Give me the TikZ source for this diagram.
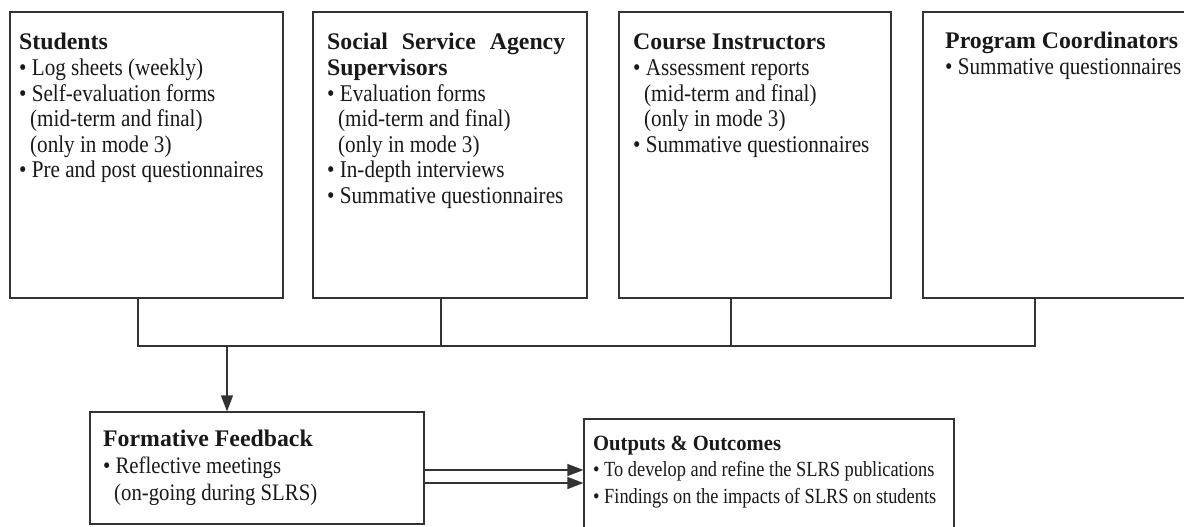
\documentclass[tikz,border=0pt]{standalone}
\usepackage{fontspec}
\setmainfont{Liberation Serif}
\newfontfamily\condf[FakeStretch=0.88]{Liberation Serif}
\newfontfamily\condg[FakeStretch=0.85]{Liberation Serif}
\newfontfamily\condh[FakeStretch=0.95]{Liberation Serif}
\usetikzlibrary{arrows.meta}
\newcommand\hd[1]{{\rmfamily\fontsize{23.8}{25.6}\selectfont\bfseries #1}}
\newcommand\hdo[1]{{\condh\fontsize{21.7}{26.5}\selectfont\bfseries #1}}
\newcommand\bodyfnt{\condf\fontsize{24}{25.6}\selectfont}
\newcommand\bodyfb{\condf\fontsize{23.6}{27}\selectfont}
\newcommand\bodyout{\condg\fontsize{21.6}{26.5}\selectfont}
\newcommand\ind{\hspace*{11pt}}
\tikzset{
  box/.style={draw=black!80, line width=1.2pt, inner sep=0pt, fill=none},
  txt/.style={inner sep=0pt, anchor=base west, font=\bodyfnt, text=black!90},
  conn/.style={draw=black!80, line width=1.2pt},
  arr/.style={conn, -{Triangle[length=16pt,width=12pt]}},
}
\begin{document}
\begin{tikzpicture}[x=1pt,y=-1pt]
\clip (0,0) rectangle (1184,527);
\fill[white] (0,0) rectangle (1184,527);
% boxes
\node[box, minimum width=273pt, minimum height=286pt] (stu) at (146.5,155) {};
\node[box, minimum width=274pt, minimum height=286pt] (ssa) at (450,155) {};
\node[box, minimum width=272pt, minimum height=286pt] (ci) at (755,155) {};
\node[box, minimum width=274pt, minimum height=286pt] (pc) at (1060,155) {};
\node[box, minimum width=334pt, minimum height=112pt] (fb) at (257,468) {};
\node[box, minimum width=370pt, minimum height=130pt] (out) at (769,484) {};
% texts
\node[txt] (stut) at (19,50) {\begin{tabular}[t]{@{}l@{}}
\hd{Students}\\
• Log sheets (weekly)\\
• Self-evaluation forms\\
\ind(mid-term and final)\\
\ind(only in mode 3)\\
• Pre and post questionnaires
\end{tabular}};
\node[txt] (ssat) at (327,50) {\begin{tabular}[t]{@{}l@{}}
\hd{\makebox[238pt][s]{Social Service Agency}}\\
\hd{Supervisors}\\
• Evaluation forms\\
\ind(mid-term and final)\\
\ind(only in mode 3)\\
• In-depth interviews\\
• Summative questionnaires
\end{tabular}};
\node[txt] (cit) at (633,50) {\begin{tabular}[t]{@{}l@{}}
\hd{Course Instructors}\\
• Assessment reports\\
\ind(mid-term and final)\\
\ind(only in mode 3)\\
• Summative questionnaires
\end{tabular}};
\node[txt] (pct) at (945,49) {\begin{tabular}[t]{@{}l@{}}
\hd{Program Coordinators}\\
• Summative questionnaires
\end{tabular}};
\node[txt, font=\bodyfb] (fbt) at (103,446) {\begin{tabular}[t]{@{}l@{}}
\hd{Formative Feedback}\\
• Reflective meetings\\
\ind(on-going during SLRS)
\end{tabular}};
\node[txt, font=\bodyout] (outt) at (593,450) {\begin{tabular}[t]{@{}l@{}}
\hdo{Outputs \& Outcomes}\\
• To develop and refine the SLRS publications\\
• Findings on the impacts of SLRS on students
\end{tabular}};
% connectors
\coordinate (d1) at (138,346);
\coordinate (d2) at (441,346);
\coordinate (d3) at (731,346);
\coordinate (d4) at (1035,346);
\coordinate (dm) at (227,346);
\coordinate (a1) at (0,470);
\coordinate (a2) at (0,483);
\draw[conn] (stu.south -| d1) -- (d1) -- (d4) -- (pc.south -| d4);
\draw[conn] (ssa.south -| d2) -- (d2);
\draw[conn] (ci.south -| d3) -- (d3);
\draw[arr] (dm) -- (fb.north -| dm);
\draw[arr] (fb.east |- a1) -- (out.west |- a1);
\draw[arr] (fb.east |- a2) -- (out.west |- a2);
\end{tikzpicture}
\end{document}
